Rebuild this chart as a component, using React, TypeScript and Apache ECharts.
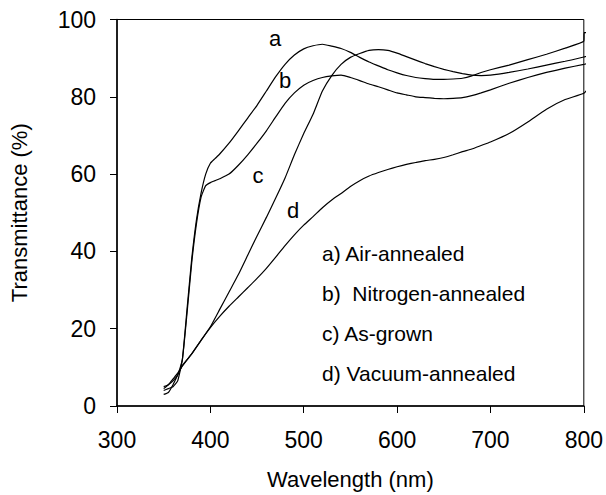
import React, { useEffect, useRef } from "react";
import * as echarts from "echarts";

// Wavelength (nm) and transmittance (%) for each film
const wlA = [350, 355, 360, 365, 370, 375, 380, 385, 390, 395, 400, 405, 410, 420, 430, 440, 450, 460, 470, 480, 490, 500, 510, 520, 530, 540, 550, 560, 570, 580, 590, 600, 610, 620, 630, 640, 650, 660, 670, 680, 690, 700, 720, 740, 760, 780, 800, 800.5, 806];
const airAnnealed = [4.0, 4.5, 5.0, 6.5, 12, 25, 38, 48, 55, 60, 62.8, 64, 65.2, 68, 71.2, 74.5, 77.8, 81.5, 85.2, 88.4, 90.8, 92.4, 93.2, 93.6, 93.1, 92.5, 91.5, 90.2, 89, 88, 87, 86.2, 85.5, 85, 84.7, 84.5, 84.5, 84.6, 84.8, 85.4, 86.3, 87, 88.2, 89.6, 91, 92.6, 94.4, 96.6, 96.6];

const wlB = [350, 355, 360, 365, 370, 375, 380, 385, 390, 395, 400, 405, 410, 420, 430, 440, 450, 460, 470, 480, 490, 500, 510, 520, 530, 540, 550, 560, 570, 580, 590, 600, 610, 620, 630, 640, 650, 660, 670, 680, 690, 700, 720, 740, 760, 780, 800, 806];
const nitrogenAnnealed = [5.0, 5.5, 6.5, 8.0, 12, 24, 37, 47, 54, 57, 57.8, 58.3, 58.8, 60, 62.3, 65, 68, 71.2, 74.8, 78.3, 81, 83, 84.2, 85, 85.4, 85.6, 85, 84.2, 83.3, 82.6, 81.8, 81, 80.5, 80, 79.8, 79.6, 79.5, 79.6, 79.8, 80.3, 81, 81.8, 83.5, 85, 86.3, 87.4, 88.4, 88.8];

const wlCD = [350, 355, 360, 365, 370, 380, 390, 400, 410, 420, 430, 440, 450, 460, 470, 480, 490, 500, 510, 520, 530, 540, 550, 560, 570, 580, 590, 600, 610, 620, 630, 640, 650, 660, 670, 680, 690, 700, 720, 740, 760, 780, 800, 806];
const asGrown = [3.0, 3.5, 5.5, 8, 10.5, 13.5, 17, 20.5, 25, 29.5, 34, 39, 44, 48.8, 53.8, 59, 65, 70.5, 75.5, 81.5, 85.5, 88.4, 90.2, 91.2, 92, 92.2, 92, 91.3, 90.4, 89.5, 88.6, 87.8, 87.1, 86.5, 86, 85.6, 85.5, 85.6, 86.3, 87.2, 88.2, 89.2, 90.3, 90.8];
const vacuumAnnealed = [4.5, 5.5, 7, 8.5, 10.3, 13.5, 17, 20.3, 23.2, 25.8, 28.2, 30.6, 33, 35.6, 38.5, 41.5, 44.3, 46.8, 49, 51.3, 53.3, 55, 56.8, 58.3, 59.5, 60.4, 61.2, 61.9, 62.5, 63, 63.5, 63.8, 64.3, 65, 65.8, 66.5, 67.4, 68.3, 70.5, 73.5, 76.8, 79.3, 80.9, 82.6];

const curveTags = ["a", "b", "c", "d"];
const legendLines = ["a) Air-annealed", "b)  Nitrogen-annealed", "c) As-grown", "d) Vacuum-annealed"];

const FONT = "'Liberation Sans', Arial, sans-serif";

const pairs = (xs: number[], ys: number[]) => xs.map((x, i) => [x, ys[i]]);

export default function App() {
  const ref = useRef<HTMLDivElement>(null);

  useEffect(() => {
    if (!ref.current) return;
    document.body.style.margin = "0";
    const chart = echarts.init(ref.current, null, { renderer: "svg" });

    const lineSeries = (name: string, data: number[][]) => ({
      name,
      type: "line",
      data,
      showSymbol: false,
      symbol: "none",
      smooth: 0.15,
      clip: false,
      lineStyle: { color: "#000", width: 1.2 },
    });

    const tagPos = [
      [275, 38],
      [285, 80],
      [258, 175],
      [293, 210],
    ];

    chart.setOption({
      animation: false,
      backgroundColor: "#fff",
      textStyle: { fontFamily: FONT },
      grid: {
        left: 104,
        right: 22,
        top: 19.5,
        bottom: 87,
        show: true,
        borderColor: "#000",
        borderWidth: 1,
      },
      xAxis: {
        type: "value",
        min: 300,
        max: 800,
        interval: 100,
        name: "Wavelength (nm)",
        nameLocation: "middle",
        nameGap: 62,
        nameTextStyle: { fontSize: 22, color: "#000", fontFamily: FONT },
        axisLine: { lineStyle: { color: "#000", width: 1.5 } },
        axisTick: { show: true, inside: false, length: 7, lineStyle: { color: "#000", width: 1 } },
        axisLabel: { fontSize: 23, color: "#000", margin: 22, fontFamily: FONT },
        splitLine: { show: false },
      },
      yAxis: {
        type: "value",
        min: 0,
        max: 100,
        interval: 20,
        name: "Transmittance (%)",
        nameLocation: "middle",
        nameGap: 87,
        nameTextStyle: { fontSize: 22, color: "#000", fontFamily: FONT },
        axisLine: { show: true, lineStyle: { color: "#000", width: 1.5 } },
        axisTick: { show: true, inside: false, length: 7, lineStyle: { color: "#000", width: 1 } },
        axisLabel: { fontSize: 23, color: "#000", margin: 21, fontFamily: FONT },
        splitLine: { show: false },
      },
      graphic: [
        ...curveTags.map((t, i) => ({
          type: "text",
          x: tagPos[i][0],
          y: tagPos[i][1],
          style: {
            text: t,
            font: `22px ${FONT}`,
            fill: "#000",
            textAlign: "center",
            textVerticalAlign: "middle",
          },
        })),
        ...legendLines.map((t, i) => ({
          type: "text",
          x: 322,
          y: 253 + i * 40,
          style: {
            text: t,
            font: `21px ${FONT}`,
            fill: "#000",
            textAlign: "left",
            textVerticalAlign: "middle",
          },
        })),
      ],
      series: [
        lineSeries("a", pairs(wlA, airAnnealed)),
        lineSeries("b", pairs(wlB, nitrogenAnnealed)),
        lineSeries("c", pairs(wlCD, asGrown)),
        lineSeries("d", pairs(wlCD, vacuumAnnealed)),
      ],
    });

    return () => chart.dispose();
  }, []);

  return <div ref={ref} style={{ width: 606, height: 495 }} />;
}
